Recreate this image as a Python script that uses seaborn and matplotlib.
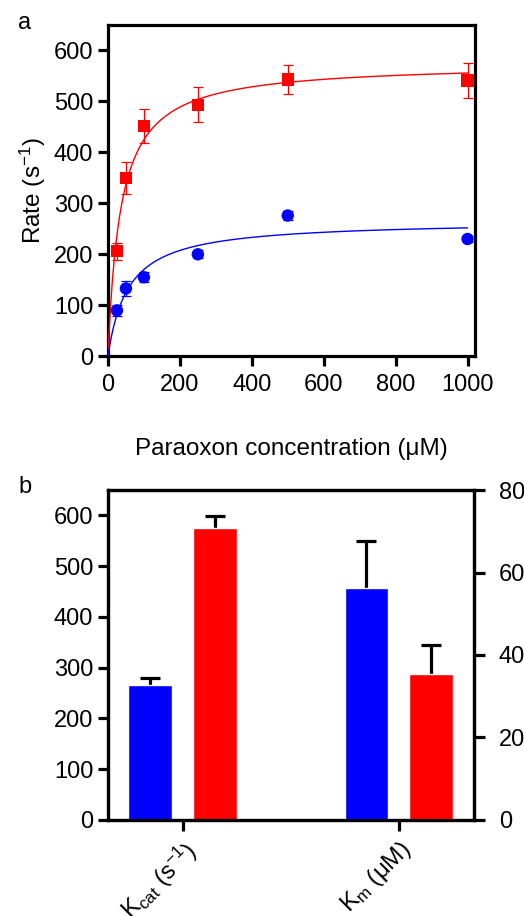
import numpy as np
import pandas as pd
import matplotlib
matplotlib.use("Agg")
import matplotlib.pyplot as plt
import seaborn as sns

# panel a: rates vs paraoxon concentration (uM)
conc = [25, 50, 100, 250, 500, 1000]
red_rate = [206, 350, 451, 493, 543, 541]
red_err = [17, 31, 33, 34, 29, 34]
blue_rate = [90, 133, 155, 200, 276, 230]
blue_err = [10, 15, 10, 8, 8, 5]

# panel b: fitted kinetic parameters
params = ["kcat", "Km"]
param_labels = [r"K$_{\mathrm{cat}}$ (s$^{-1}$)", r"K$_{\mathrm{m}}$ (μM)"]
enzymes = ["blue", "red"]
kcat_vals = [266, 575]
kcat_err = [13, 24]
km_vals = [56.3, 35.4]
km_err = [11.3, 7.0]

colors = {"blue": "#0000ff", "red": "#ff0000"}

sns.set_style("ticks", {"axes.edgecolor": "black", "xtick.color": "black",
                        "ytick.color": "black", "text.color": "black",
                        "axes.labelcolor": "black"})
plt.rcParams["font.family"] = ["Liberation Sans", "DejaVu Sans"]
plt.rcParams["mathtext.fontset"] = "custom"
plt.rcParams["mathtext.rm"] = "Liberation Sans"
plt.rcParams["mathtext.it"] = "Liberation Sans"
plt.rcParams["mathtext.default"] = "regular"
FS = 17
LFS = 17.5
LW = 2.3

fig = plt.figure(figsize=(5.24, 9.16), dpi=100)
ax = fig.add_axes([0.206, 0.611, 0.700, 0.362])
axb = fig.add_axes([0.206, 0.105, 0.698, 0.360])


def style(a):
    for s in a.spines.values():
        s.set_linewidth(LW)
        s.set_visible(True)
        s.set_color("black")
    a.tick_params(width=LW, length=7, labelsize=FS, direction="out", colors="black")


# ---- panel a
pts = pd.DataFrame({
    "conc": conc * 2,
    "rate": red_rate + blue_rate,
    "enzyme": ["red"] * 6 + ["blue"] * 6,
})
for enz, rate, err in [("red", red_rate, red_err), ("blue", blue_rate, blue_err)]:
    ax.errorbar(conc, rate, yerr=err, fmt="none", ecolor=colors[enz],
                elinewidth=0.9, capsize=3.8, capthick=0.9, zorder=2)
    kc = kcat_vals[enzymes.index(enz)]
    km = km_vals[enzymes.index(enz)]
    xf = np.linspace(0, 1000, 400)
    sns.lineplot(x=xf, y=kc * xf / (km + xf), color=colors[enz], lw=1.0, ax=ax, zorder=3)
sns.scatterplot(data=pts, x="conc", y="rate", hue="enzyme", style="enzyme",
                markers={"red": "s", "blue": "o"}, palette=colors, s=80,
                edgecolor="none", legend=False, ax=ax, zorder=4)
ax.set_xlim(0, 1020)
ax.set_ylim(0, 650)
ax.set_xticks([0, 200, 400, 600, 800, 1000])
ax.set_yticks([0, 100, 200, 300, 400, 500, 600])
ax.set_xlabel("Paraoxon concentration (μM)", fontsize=LFS, labelpad=30)
ax.set_ylabel("Rate (s$^{-1}$)", fontsize=LFS, labelpad=4)
style(ax)
ax.tick_params(axis="x", pad=6)
fig.text(0.035, 0.975, "a", fontsize=FS, va="center")

# ---- panel b
kcat_df = pd.DataFrame({"param": ["kcat"] * 2, "enzyme": enzymes, "value": kcat_vals})
km_df = pd.DataFrame({"param": ["Km"] * 2, "enzyme": enzymes, "value": km_vals})
axr = axb.twinx()
sns.barplot(data=kcat_df, x="param", y="value", hue="enzyme", order=params,
            hue_order=enzymes, palette=colors, width=0.6, gap=1 / 3,
            saturation=1, legend=False, ax=axb, zorder=2)
sns.barplot(data=km_df, x="param", y="value", hue="enzyme", order=params,
            hue_order=enzymes, palette=colors, width=0.6, gap=1 / 3,
            saturation=1, legend=False, ax=axr, zorder=2)
for a, errs in [(axb, kcat_err), (axr, km_err)]:
    bars = [p for p in a.patches if p.get_height() > 0]
    for p, e in zip(bars, errs):
        xc = p.get_x() + p.get_width() / 2
        top = p.get_height() + e
        a.vlines(xc, p.get_height(), top, color="black", lw=LW, zorder=1)
        a.hlines(top, xc - 0.046, xc + 0.046, color="black", lw=LW, zorder=1)
axb.set_xlim(-0.345, 1.347)
axr.set_xlim(-0.345, 1.347)
axb.set_ylim(0, 650)
axr.set_ylim(0, 80)
axb.set_yticks([0, 100, 200, 300, 400, 500, 600])
axr.set_yticks([0, 20, 40, 60, 80])
axb.set_xticks([0, 1])
axb.set_xticklabels(param_labels, rotation=45, ha="right", rotation_mode="anchor")
axb.set_xlabel("")
axb.set_ylabel("")
axr.set_ylabel("")
style(axb)
style(axr)
axb.tick_params(axis="x", length=8, pad=4, labelsize=LFS)
axr.tick_params(axis="y", length=8, pad=10)
fig.text(0.035, 0.468, "b", fontsize=FS, va="center")

fig.savefig("out.png", dpi=100)
